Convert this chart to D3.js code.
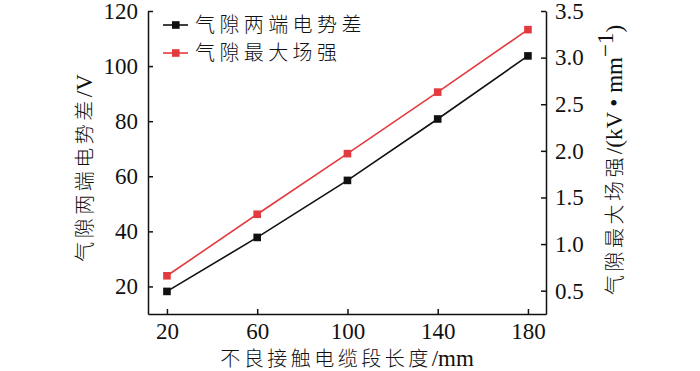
<!DOCTYPE html>
<html>
<head>
<meta charset="utf-8">
<script src="https://cdn.jsdelivr.net/npm/d3@7"></script>
<style>
  body { margin: 0; background: #fff; }
  svg text { fill: #111; }
  .num { font-family: "Liberation Serif", "Times New Roman", serif; font-size: 23px; }
  .cjk { font-family: "Noto Sans CJK SC", sans-serif; font-size: 20px; letter-spacing: 3.5px; font-weight: 300; }
  .lg { letter-spacing: 4.4px; }
</style>
</head>
<body>
<div id="entry"></div>
<script>
// data
var lengths = [20, 60, 100, 140, 180];              // mm
var gapVoltage = [18.2, 37.8, 58.5, 80.8, 103.7];   // V, left axis
var gapField = [0.66, 1.32, 1.97, 2.63, 3.30];      // kV/mm, right axis
var xTicks = [20, 60, 100, 140, 180];
var yLeftTicks = [20, 40, 60, 80, 100, 120];
var yRightTicks = [0.5, 1.0, 1.5, 2.0, 2.5, 3.0, 3.5];
var seriesNames = ['气隙两端电势差', '气隙最大场强'];
var colors = ['#111111', '#e23a3f'];

var width = 700, height = 371;
var plot = {left: 148, right: 546, top: 11, bottom: 314};

var svg = d3.select('#entry').append('svg')
  .attr('width', width)
  .attr('height', height);

var x = d3.scaleLinear().domain([11.6, 188]).range([plot.left, plot.right]);
var yL = d3.scaleLinear().domain([10, 120]).range([plot.bottom, plot.top]);
var yR = d3.scaleLinear().domain([0.25, 3.5]).range([plot.bottom, plot.top]);

var xAxis = d3.axisBottom(x).tickValues(xTicks).tickSize(-5).tickSizeOuter(0).tickPadding(9);
var leftAxis = d3.axisLeft(yL).tickValues(yLeftTicks).tickSize(-5).tickSizeOuter(0).tickPadding(10);
var rightAxis = d3.axisRight(yR).tickValues(yRightTicks).tickSize(-5).tickSizeOuter(0).tickPadding(9)
  .tickFormat(d3.format('.1f'));

function styleAxis(g) {
  g.selectAll('path, line').attr('stroke', '#111').attr('stroke-width', 1.5);
  g.selectAll('text').attr('class', 'num').attr('fill', '#111').attr('font-size', null).attr('font-family', null);
}

svg.append('g').attr('transform', 'translate(0,' + plot.bottom + ')').call(xAxis).call(styleAxis);
svg.append('g').attr('transform', 'translate(' + plot.left + ',0)').call(leftAxis).call(styleAxis);
svg.append('g').attr('transform', 'translate(' + plot.right + ',0)').call(rightAxis).call(styleAxis);

// series
var series = [
  {name: seriesNames[0], values: gapVoltage, y: yL, color: colors[0]},
  {name: seriesNames[1], values: gapField, y: yR, color: colors[1]}
];

series.forEach(function(s) {
  var line = d3.line()
    .x(function(d, i) { return x(lengths[i]); })
    .y(function(d) { return s.y(d); });
  svg.append('path')
    .datum(s.values)
    .attr('fill', 'none')
    .attr('stroke', s.color)
    .attr('stroke-width', 1.6)
    .attr('d', line);
  svg.selectAll(null)
    .data(s.values)
    .enter()
    .append('rect')
    .attr('x', function(d, i) { return x(lengths[i]) - 3.8; })
    .attr('y', function(d) { return s.y(d) - 3.8; })
    .attr('width', 7.6)
    .attr('height', 7.6)
    .attr('fill', s.color);
});

// legend
var legend = svg.append('g').attr('transform', 'translate(163,25)');
series.forEach(function(s, i) {
  var row = legend.append('g').attr('transform', 'translate(0,' + (i * 28) + ')');
  row.append('line').attr('x1', 0).attr('x2', 25).attr('stroke', s.color).attr('stroke-width', 1.6);
  row.append('rect').attr('x', 9).attr('y', -3.8).attr('width', 7.6).attr('height', 7.6).attr('fill', s.color);
  row.append('text').attr('class', 'cjk lg').attr('x', 32).attr('y', 7).text(s.name);
});

// axis titles
var xt = svg.append('text').attr('x', 347).attr('y', 366).attr('text-anchor', 'middle');
xt.append('tspan').attr('class', 'cjk').text('不良接触电缆段长度');
xt.append('tspan').attr('class', 'num').text('/mm');

var ylt = svg.append('text')
  .attr('transform', 'translate(92,168) rotate(-90)')
  .attr('text-anchor', 'middle');
ylt.append('tspan').attr('class', 'cjk').text('气隙两端电势差');
ylt.append('tspan').attr('class', 'num').text('/V');

var yrt = svg.append('text')
  .attr('transform', 'translate(622,160) rotate(-90)')
  .attr('text-anchor', 'middle');
yrt.append('tspan').attr('class', 'cjk').text('气隙最大场强');
yrt.append('tspan').attr('class', 'num').text('/(kV • mm');
yrt.append('tspan').attr('class', 'num').attr('font-size', 14).attr('dy', -9).text('−1');
yrt.append('tspan').attr('class', 'num').attr('dy', 9).text(')');
</script>
</body>
</html>
